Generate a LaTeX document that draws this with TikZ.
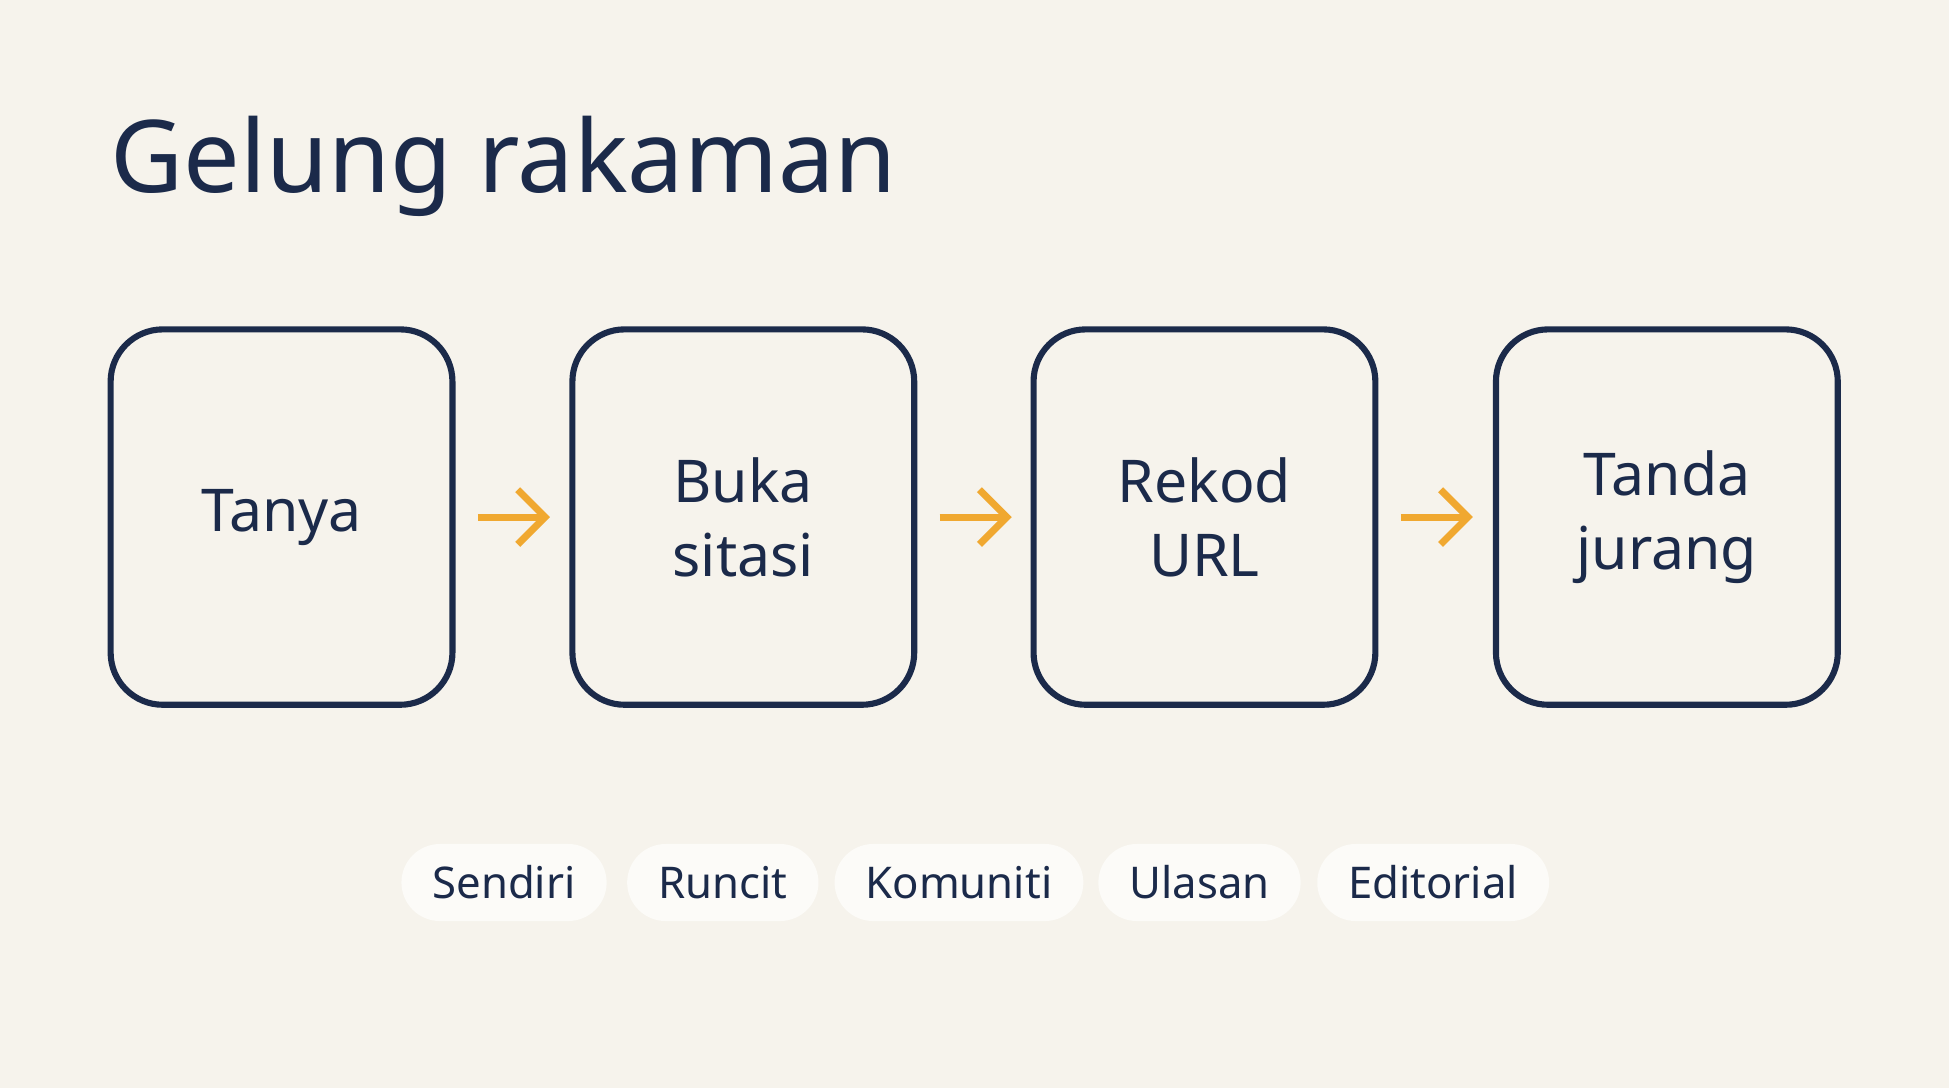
\documentclass[tikz,border=0pt]{standalone}
\usepackage{fontspec}
\setmainfont{Noto Sans}
\usetikzlibrary{positioning,arrows.meta}
\definecolor{paper}{HTML}{F6F3EC}
\definecolor{ink}{HTML}{1B2A4A}
\definecolor{amber}{HTML}{F0A830}
\definecolor{chipfill}{HTML}{FCFBF8}

\begin{document}
\begin{tikzpicture}[
    stage/.style={draw=ink, line width=1.4pt, rounded corners=0.42cm,
      minimum width=2.75cm, minimum height=3.02cm, align=center,
      text=ink, font=\fontsize{13.5}{17}\selectfont\bfseries},
    flow/.style={amber, line width=1.6pt, -{Straight Barb[length=2.2mm,width=4.4mm]}},
    chip/.style={fill=chipfill, rounded corners=0.31cm, minimum height=0.62cm,
      text=ink, font=\fontsize{10}{12}\selectfont, inner xsep=0.25cm}]
    \fill[paper] (0,0) rectangle (15.68,8.75);
    \useasboundingbox (0,0) rectangle (15.68,8.75);

    \node[anchor=base west, text=ink, font=\fontsize{23}{28}\selectfont\bfseries,
      inner sep=0] (title) at (0.88,7.2) {Gelung rakaman};

    \node[stage] (ask)  at (2.265,4.59) {Tanya};
    \node[stage] (open) at (5.98,4.59)  {Buka\\sitasi};
    \node[stage] (log)  at (9.69,4.59)  {Rekod\\URL};
    \node[stage] (gap)  at (13.41,4.59) {Tanda\\jurang};

    \draw[flow] (ask.east)  ++(0.18,0) -- ++(0.58,0) coordinate (a1);
    \draw[flow] (open.east) ++(0.18,0) -- ++(0.58,0) coordinate (a2);
    \draw[flow] (log.east)  ++(0.18,0) -- ++(0.58,0) coordinate (a3);

    % sumber
    \node[chip, minimum width=1.61cm] (self)  at (4.055,1.65) {Sendiri};
    \node[chip, minimum width=1.51cm] (shop)  at (5.815,1.65) {Runcit};
    \node[chip, minimum width=1.89cm] (crowd) at (7.715,1.65) {Komuniti};
    \node[chip, minimum width=1.58cm] (rev)   at (9.65,1.65)  {Ulasan};
    \node[chip, minimum width=1.80cm] (edit)  at (11.53,1.65) {Editorial};
\end{tikzpicture}
\end{document}
